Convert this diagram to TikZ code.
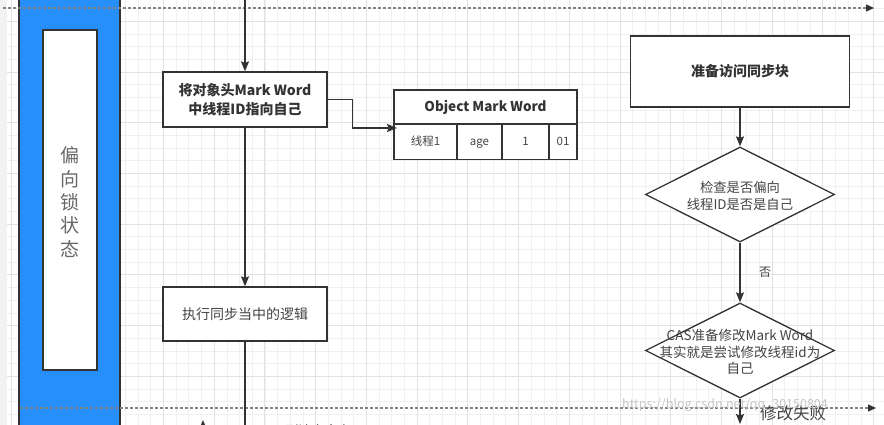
\documentclass[tikz,border=0pt]{standalone}
\usepackage{fontspec}
\setmainfont{Noto Sans CJK SC}
\usetikzlibrary{arrows.meta,shapes.geometric}

\definecolor{ink}{RGB}{51,51,51}
\definecolor{txt}{RGB}{68,68,68}
\definecolor{band}{RGB}{38,143,252}
\definecolor{gridminor}{RGB}{240,240,240}
\definecolor{gridmajor}{RGB}{226,226,226}
\definecolor{gutter}{RGB}{242,242,242}
\definecolor{lanegray}{RGB}{130,130,130}

\tikzset{
  box/.style={draw=ink, line width=1.3pt, fill=white, inner sep=2pt, align=center, text=ink},
  cell/.style={draw=ink, line width=1.3pt, fill=white, inner sep=0pt, align=center, text=txt,
               font=\fontsize{11.5}{14}\selectfont, text height=9pt, text depth=2.5pt},
  decision/.style={draw=ink, line width=1.3pt, fill=white, diamond, inner sep=0pt,
                   minimum width=189pt, minimum height=95pt},
  plaintext/.style={align=center, text=txt, inner sep=0pt},
  flow/.style={draw=ink, line width=1.3pt},
  arr/.style={flow, -{Stealth[length=10pt,width=8pt,inset=1.5pt]}},
  lanedash/.style={draw=lanegray, line width=1.1pt, dash pattern=on 3pt off 2pt,
                   -{Triangle[length=8pt,width=7pt,color=ink,fill=ink]}},
}

\begin{document}
\begin{tikzpicture}[x=1pt,y=-1pt]
\useasboundingbox (0,0) rectangle (884,425);
\clip (0,0) rectangle (884,425);

% canvas and grid
\fill[white] (0,0) rectangle (884,425);
\foreach \i in {-13,...,57}
  \draw[gridminor, line width=0.8pt] ({163.5+12.68*\i},0) -- ++(0,425);
\foreach \j in {-6,...,28}
  \draw[gridminor, line width=0.8pt] (0,{72+12.68*\j}) -- ++(884,0);
\foreach \i in {-4,...,15}
  \draw[gridmajor, line width=0.9pt] ({163.5+50.72*\i},0) -- ++(0,425);
\foreach \j in {-2,...,7}
  \draw[gridmajor, line width=0.9pt] (0,{72+50.72*\j}) -- ++(884,0);
\fill[gutter] (0,0) rectangle (7,425);

% swimlane header
\draw[draw=ink, line width=1.1pt, fill=band] (19,-5) rectangle (120,430);
\node[box, minimum width=54pt, minimum height=340pt, inner sep=0pt] (lane) at (70,200) {};
\node[plaintext, text=lanegray!80!black, font=\fontsize{19}{23.3}\selectfont] (lanetitle)
  at (70,202) {偏\\向\\锁\\状\\态};

% lane separators
\coordinate (sepTopL) at (3,8);
\coordinate (sepTopR) at (874,8);
\coordinate (sepBotL) at (20,408);
\coordinate (sepBotR) at (876,408);
\draw[lanedash] (sepTopL) -- (sepTopR);
\draw[lanedash] (sepBotL) -- (sepBotR);

% left column
\node[box, minimum width=164pt, minimum height=55pt, font=\bfseries\fontsize{14}{19}\selectfont]
  (setid) at (245,99.5) {将对象头Mark Word\\中线程ID指向自己};
\node[box, minimum width=164pt, minimum height=54pt, text=txt, font=\fontsize{14}{18}\selectfont]
  (runsync) at (245,314) {执行同步当中的逻辑};

% object mark word table
\node[box, minimum width=183pt, minimum height=34pt, inner sep=0pt, font=\bfseries\fontsize{13.5}{16}\selectfont]
  (mwhead) at (485.5,107) {Object Mark Word};
\node[cell, minimum width=63pt, minimum height=35pt] (mwthread) at (425.5,142) {线程1};
\node[cell, minimum width=45pt, minimum height=35pt] (mwage) at (479.5,142) {age};
\node[cell, minimum width=47pt, minimum height=35pt] (mwbias) at (525.5,142) {1};
\node[cell, minimum width=28pt, minimum height=35pt] (mwlock) at (563,142) {01};
\coordinate (mwin) at (397,128);

% right column
\node[box, minimum width=219pt, minimum height=71pt, font=\bfseries\fontsize{14}{18}\selectfont]
  (prep) at (740,71.5) {准备访问同步块};
\node[decision] (check) at (740,194.5) {};
\node[plaintext, font=\fontsize{13.3}{17}\selectfont] (checktext) at (740,195.5)
  {检查是否偏向\\线程ID是否是自己};
\node[decision] (cas) at (740,350.5) {};
\node[plaintext, font=\fontsize{13.5}{16.5}\selectfont] (castext) at (740,352)
  {CAS准备修改Mark Word\\其实就是尝试修改线程id为\\自己};

% connectors
\coordinate (topin) at (245,-5);
\coordinate (botout) at (245,440);
\draw[arr] (topin) -- (setid.north);
\draw[arr] (setid.south) -- (runsync.north);
\draw[flow] (runsync.south) -- (botout);
\draw[arr] (setid.east) -- ++(25,0) |- (mwin);

\draw[arr] (prep.south) -- (check.north);
\draw[arr] (check.south) -- node[plaintext, font=\fontsize{12}{14}\selectfont, xshift=25pt] (nolabel) {否} (cas.north);
\coordinate (failend) at (740,424);
\draw[arr] (cas.south) -- (failend);
\node[plaintext, font=\fontsize{16.5}{18}\selectfont] (faillabel) at (793,413) {修改失败};

% elements continuing below the visible area
\coordinate (upfrom) at (203,445);
\coordinate (upto) at (203,420);
\draw[arr] (upfrom) -- (upto);
\node[plaintext, font=\fontsize{13}{15}\selectfont] (safepoint) at (318,430) {到达安全点};

% watermark
\node[plaintext, text=black!22, font=\fontsize{12.5}{14}\selectfont] (wm) at (725,405)
  {https://blog.csdn.net/qq\_30150804};
\end{tikzpicture}
\end{document}
